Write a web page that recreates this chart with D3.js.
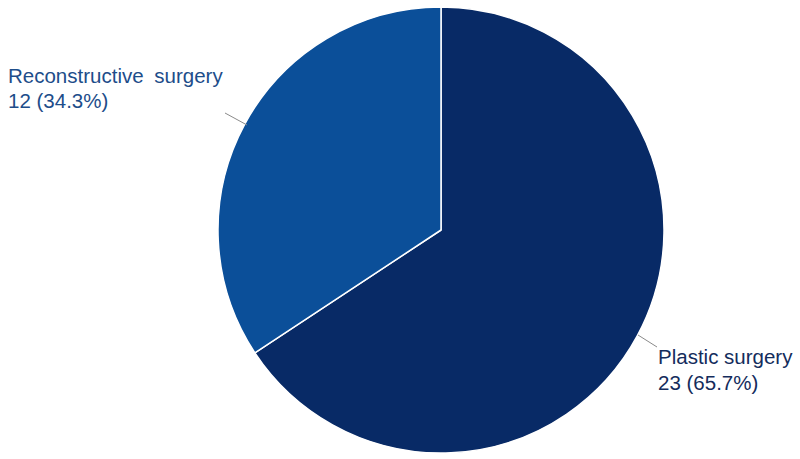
<!DOCTYPE html>
<html><head><meta charset="utf-8">
<script src="https://cdn.jsdelivr.net/npm/d3@7"></script>
<style>body{margin:0;background:#fff}svg{display:block}</style>
</head><body>
<svg id="c" width="800" height="459"></svg>
<script>
const categories = ["Plastic surgery", "Reconstructive surgery"];
const values = [23, 12];
const percents = ["65.7%", "34.3%"];
const colors = ["#082a66", "#0b4f99"];
const textColors = ["#142c5c", "#1d4d8a"];

const svg = d3.select("#c");
const cx = 441, cy = 230, r = 223;
const g = svg.append("g").attr("transform", `translate(${cx},${cy})`);
const pie = d3.pie().sort(null).value(d => d)(values);
const arc = d3.arc().innerRadius(0).outerRadius(r);
g.selectAll("path").data(pie).join("path")
  .attr("d", arc)
  .attr("fill", (d, i) => colors[i])
  .attr("stroke", "#fff").attr("stroke-width", 1.5).attr("stroke-linejoin", "round");

const labelPos = [
  {x: 658, y: 364, lx1: 657, ly1: 347, lx2: 638, ly2: 335, ws: 0},
  {x: 8, y: 83, lx1: 225, ly1: 113, lx2: 247, ly2: 125, ws: 5}
];
pie.forEach((d, i) => {
  const lp = labelPos[i];
  svg.append("line")
    .attr("x1", lp.lx1).attr("y1", lp.ly1)
    .attr("x2", lp.lx2).attr("y2", lp.ly2)
    .attr("stroke", "#8a8a8a").attr("stroke-width", 1);
  const t = svg.append("text")
    .attr("x", lp.x).attr("y", lp.y)
    .attr("font-family", "Liberation Sans, Arial, sans-serif")
    .attr("font-size", 20.5).attr("fill", textColors[i]);
  t.append("tspan").attr("x", lp.x).attr("word-spacing", lp.ws).text(categories[i]);
  t.append("tspan").attr("x", lp.x).attr("dy", i === 0 ? 26 : 25)
    .text(`${values[i]} (${percents[i]})`);
});
</script>
</body></html>
